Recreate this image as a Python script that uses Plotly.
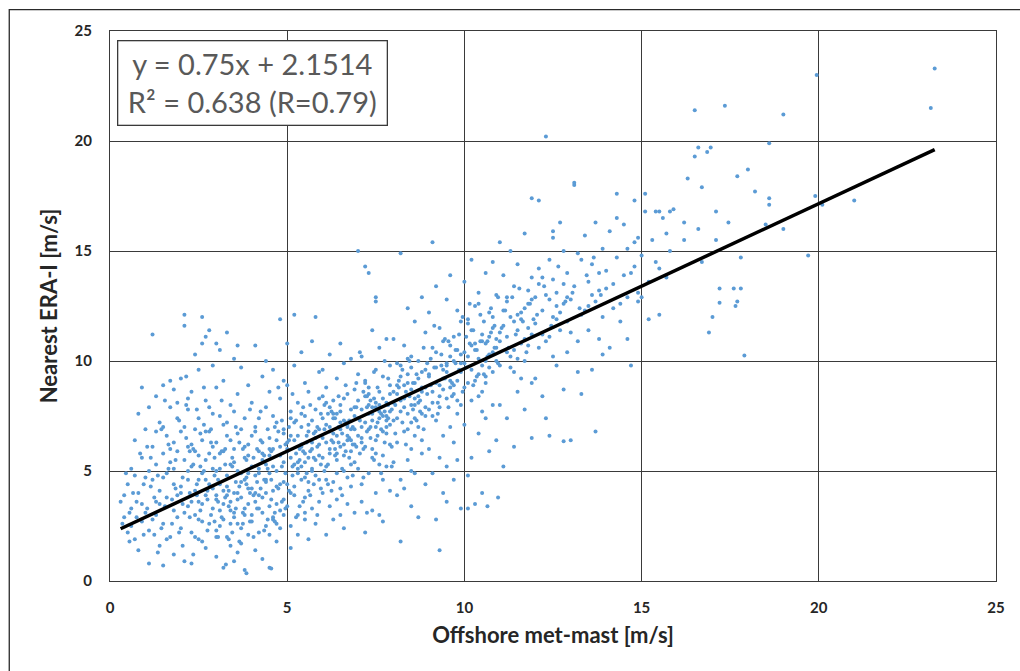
import plotly.graph_objects as go

# Offshore met-mast wind speed (x) vs nearest ERA-Interim grid point (y), m/s

# --- low winds, mast < 3 m/s ---
mast_a = [
    0.3, 0.4, 0.5, 0.5, 0.6, 0.6, 0.7, 0.7, 0.8, 0.8,
    0.9, 0.9, 0.9, 1.0, 1.0, 0.4, 0.6, 0.8, 0.7, 0.9,
    1.1, 1.1, 1.2, 1.2, 1.2, 1.3, 1.3, 1.3, 1.4, 1.4,
    1.4, 1.5, 1.5, 1.5, 1.5, 1.6, 1.6, 1.6, 1.7, 1.7,
    1.7, 1.7, 1.8, 1.8, 1.8, 1.8, 1.9, 1.9, 1.9, 1.9,
    1.1, 1.2, 1.3, 1.4, 1.5, 1.6, 1.7, 1.8, 1.9, 2.0,
    1.0, 1.3, 1.5, 1.8, 2.0,
    2.0, 2.0, 2.1, 2.1, 2.1, 2.1, 2.2, 2.2, 2.2, 2.2,
    2.3, 2.3, 2.3, 2.3, 2.4, 2.4, 2.4, 2.4, 2.5, 2.5,
    2.5, 2.5, 2.5, 2.6, 2.6, 2.6, 2.6, 2.7, 2.7, 2.7,
    2.7, 2.8, 2.8, 2.8, 2.8, 2.9, 2.9, 2.9, 2.9, 3.0,
    2.0, 2.1, 2.2, 2.3, 2.4, 2.5, 2.6, 2.7, 2.8, 2.9,
    2.1, 2.3, 2.4, 2.6, 2.8, 2.9, 2.2, 2.5, 2.7, 3.0,
    2.7, 2.6, 1.1,
]
era_a = [
    3.6, 2.9, 4.4, 2.2, 3.3, 5.1, 6.4, 1.9, 4.0, 7.6,
    8.8, 2.7, 5.6, 3.1, 6.9, 3.9, 2.5, 1.4, 4.8, 3.5,
    7.9, 2.3, 11.2, 4.6, 6.1, 3.0, 8.4, 5.3, 1.6, 7.2,
    4.1, 5.8, 2.6, 8.9, 0.7, 6.6, 3.8, 4.9, 7.9, 2.0,
    5.4, 9.1, 3.2, 6.3, 1.2, 4.4, 7.4, 2.9, 5.9, 8.1,
    5.0, 2.8, 6.8, 3.5, 4.7, 1.9, 6.0, 8.7, 3.9, 4.3,
    4.7, 3.6, 7.0, 5.1, 6.8,
    2.4, 9.2, 12.1, 11.6, 5.5, 0.9, 3.4, 7.8, 6.1, 4.6,
    2.2, 5.2, 8.6, 0.8, 4.1, 6.9, 3.0, 10.3, 5.7, 1.9,
    7.4, 3.6, 9.6, 4.9, 2.7, 6.4, 12.0, 8.2, 3.9, 5.5,
    1.5, 11.4, 6.8, 2.6, 4.4, 7.6, 3.3, 9.8, 5.1, 2.0,
    4.0, 3.1, 5.0, 6.2, 2.0, 4.6, 3.5, 6.8, 5.8, 4.2,
    7.0, 3.6, 5.9, 1.8, 7.9, 6.1, 8.3, 2.8, 4.6, 3.7,
    11.1, 10.8, 0.8,
]

# --- mast 3-6 m/s ---
mast_b = [
    3.0, 3.0, 3.0, 3.1, 3.1, 3.1, 3.1, 3.2, 3.2, 3.2,
    3.2, 3.3, 3.3, 3.3, 3.3, 3.4, 3.4, 3.4, 3.4, 3.5,
    3.5, 3.5, 3.5, 3.5, 3.6, 3.6, 3.6, 3.6, 3.7, 3.7,
    3.7, 3.7, 3.8, 3.8, 3.8, 3.8, 3.9, 3.9, 3.9, 3.9,
    3.0, 3.1, 3.2, 3.3, 3.4, 3.5, 3.6, 3.7, 3.8, 3.9,
    3.0, 3.2, 3.3, 3.5, 3.6, 3.8, 3.9, 3.1, 3.4, 3.7,
    3.2, 3.4, 3.6, 3.8, 3.5, 3.3, 3.1, 3.9, 3.0, 3.7,
    4.0, 4.0, 4.0, 4.1, 4.1, 4.1, 4.1, 4.2, 4.2, 4.2,
    4.2, 4.3, 4.3, 4.3, 4.3, 4.4, 4.4, 4.4, 4.4, 4.5,
    4.5, 4.5, 4.5, 4.5, 4.6, 4.6, 4.6, 4.6, 4.7, 4.7,
    4.7, 4.7, 4.8, 4.8, 4.8, 4.8, 4.9, 4.9, 4.9, 4.9,
    4.0, 4.1, 4.2, 4.3, 4.4, 4.5, 4.6, 4.7, 4.8, 4.9,
    4.0, 4.2, 4.3, 4.5, 4.6, 4.8, 4.9, 4.1, 4.4, 4.7,
    4.2, 4.4, 4.6, 4.8, 4.5, 4.3, 4.1, 4.9, 4.0, 4.7,
    5.0, 5.0, 5.0, 5.1, 5.1, 5.1, 5.1, 5.2, 5.2, 5.2,
    5.2, 5.3, 5.3, 5.3, 5.3, 5.4, 5.4, 5.4, 5.4, 5.5,
    5.5, 5.5, 5.5, 5.5, 5.6, 5.6, 5.6, 5.6, 5.7, 5.7,
    5.7, 5.7, 5.8, 5.8, 5.8, 5.8, 5.9, 5.9, 5.9, 5.9,
    5.0, 5.1, 5.2, 5.3, 5.4, 5.5, 5.6, 5.7, 5.8, 5.9,
    5.0, 5.2, 5.3, 5.5, 5.6, 5.8, 5.9, 5.1, 5.4, 5.7,
    5.2, 5.4, 5.6, 5.8, 5.5, 5.3, 5.1, 5.9, 5.0, 5.7,
    3.0, 3.6, 5.0, 3.85, 4.55, 3.27,
]
era_b = [
    6.3, 1.1, 8.8, 4.4, 10.5, 2.5, 5.8, 7.1, 3.5, 0.6,
    9.1, 4.8, 2.0, 6.6, 11.3, 3.2, 8.0, 5.3, 1.6, 4.0,
    7.7, 2.9, 10.1, 6.0, 3.7, 5.0, 1.3, 8.5, 4.5, 2.4,
    6.9, 9.7, 3.0, 5.6, 0.5, 7.4, 4.2, 2.1, 6.2, 8.9,
    3.9, 5.1, 2.8, 4.3, 3.6, 5.4, 2.6, 4.9, 3.3, 5.7,
    2.3, 4.1, 3.9, 3.1, 6.7, 4.6, 3.5, 7.5, 6.4, 3.8,
    5.9, 2.6, 4.0, 6.1, 0.9, 7.2, 3.2, 4.9, 5.0, 1.7,
    5.2, 2.7, 8.1, 3.6, 6.8, 1.4, 10.7, 4.9, 2.2, 7.4,
    5.9, 3.1, 9.3, 6.3, 1.0, 4.5, 7.9, 2.5, 10.0, 5.7,
    3.4, 8.6, 0.6, 6.5, 4.1, 2.8, 9.6, 6.0, 3.5, 7.2,
    5.0, 1.8, 8.3, 4.4, 11.9, 2.4, 6.7, 3.0, 5.4, 9.1,
    4.2, 4.8, 3.9, 5.5, 4.0, 4.9, 5.2, 4.3, 6.1, 3.7,
    6.6, 5.1, 3.8, 6.0, 2.9, 5.7, 4.5, 7.0, 5.3, 6.4,
    3.3, 4.6, 7.5, 3.2, 2.1, 5.8, 4.0, 6.9, 3.0, 2.6,
    6.0, 3.4, 8.9, 2.5, 5.6, 7.7, 1.5, 4.3, 9.8, 12.1,
    6.4, 3.0, 5.1, 8.1, 2.1, 7.0, 4.6, 10.4, 6.2, 3.8,
    5.4, 9.0, 2.8, 7.5, 4.1, 6.8, 1.9, 8.6, 5.0, 3.3,
    7.3, 10.9, 4.8, 12.0, 6.5, 2.6, 5.7, 8.3, 3.6, 9.5,
    5.9, 6.6, 5.3, 4.9, 6.1, 5.8, 7.1, 6.3, 5.5, 6.9,
    4.4, 7.2, 6.6, 4.7, 5.6, 7.8, 6.2, 4.0, 5.2, 6.0,
    3.9, 7.6, 4.5, 6.8, 3.1, 5.4, 7.4, 4.6, 6.3, 5.1,
    10.8, 10.7, 10.8, 0.35, 0.57, 0.75,
]

# --- mast 6-9 m/s ---
mast_c = [
    6.0, 6.0, 6.0, 6.1, 6.1, 6.1, 6.1, 6.2, 6.2, 6.2,
    6.2, 6.3, 6.3, 6.3, 6.3, 6.4, 6.4, 6.4, 6.4, 6.5,
    6.5, 6.5, 6.5, 6.5, 6.6, 6.6, 6.6, 6.6, 6.7, 6.7,
    6.7, 6.7, 6.8, 6.8, 6.8, 6.8, 6.9, 6.9, 6.9, 6.9,
    6.0, 6.1, 6.2, 6.3, 6.4, 6.5, 6.6, 6.7, 6.8, 6.9,
    6.0, 6.2, 6.3, 6.5, 6.6, 6.8, 6.9, 6.1, 6.4, 6.7,
    6.2, 6.4, 6.6, 6.8, 6.5, 6.3, 6.1, 6.9, 6.0, 6.7,
    7.0, 7.0, 7.0, 7.1, 7.1, 7.1, 7.1, 7.2, 7.2, 7.2,
    7.2, 7.3, 7.3, 7.3, 7.3, 7.4, 7.4, 7.4, 7.4, 7.5,
    7.5, 7.5, 7.5, 7.5, 7.6, 7.6, 7.6, 7.6, 7.7, 7.7,
    7.7, 7.7, 7.8, 7.8, 7.8, 7.8, 7.9, 7.9, 7.9, 7.9,
    7.0, 7.1, 7.2, 7.3, 7.4, 7.5, 7.6, 7.7, 7.8, 7.9,
    7.0, 7.2, 7.3, 7.5, 7.6, 7.8, 7.9, 7.1, 7.4, 7.7,
    7.2, 7.4, 7.6, 7.8, 7.5, 7.3, 7.1, 7.9, 7.0, 7.7,
    8.0, 8.0, 8.0, 8.1, 8.1, 8.1, 8.1, 8.2, 8.2, 8.2,
    8.2, 8.3, 8.3, 8.3, 8.3, 8.4, 8.4, 8.4, 8.4, 8.5,
    8.5, 8.5, 8.5, 8.5, 8.6, 8.6, 8.6, 8.6, 8.7, 8.7,
    8.7, 8.7, 8.8, 8.8, 8.8, 8.8, 8.9, 8.9, 8.9, 8.9,
    8.0, 8.1, 8.2, 8.3, 8.4, 8.5, 8.6, 8.7, 8.8, 8.9,
    8.0, 8.2, 8.3, 8.5, 8.6, 8.8, 8.9, 8.1, 8.4, 8.7,
    8.2, 8.4, 8.6, 8.8, 8.5,
    7.25, 7.5,
]
era_c = [
    7.4, 4.0, 9.6, 2.1, 6.3, 8.8, 5.2, 3.4, 7.0, 10.3,
    5.8, 4.5, 8.2, 2.8, 6.7, 3.7, 9.2, 5.5, 7.6, 4.2,
    6.1, 10.8, 3.0, 8.0, 5.0, 7.3, 2.4, 9.9, 6.4, 4.7,
    8.5, 3.5, 5.9, 7.8, 10.1, 4.3, 6.9, 3.1, 8.7, 5.4,
    6.5, 7.1, 6.8, 7.4, 6.6, 7.7, 6.2, 7.0, 6.9, 7.5,
    5.6, 6.0, 6.3, 7.2, 5.7, 6.4, 7.9, 8.1, 5.8, 6.6,
    7.9, 4.9, 8.3, 5.3, 6.9, 7.6, 4.6, 6.2, 8.4, 7.1,
    8.2, 5.1, 15.0, 3.6, 7.0, 10.2, 4.4, 6.1, 9.0, 14.3,
    2.2, 7.6, 4.9, 14.0, 8.8, 5.6, 11.4, 3.2, 7.3, 6.4,
    9.6, 4.0, 12.7, 7.9, 5.3, 8.6, 3.0, 10.6, 6.8, 4.6,
    9.3, 2.7, 7.5, 5.2, 11.0, 8.1, 6.2, 9.8, 4.1, 7.1,
    7.4, 7.8, 7.2, 8.0, 7.6, 7.0, 7.7, 8.3, 7.3, 8.5,
    6.6, 8.4, 6.9, 8.1, 7.4, 6.7, 8.9, 6.3, 7.9, 7.5,
    9.1, 6.0, 8.0, 7.0, 5.8, 8.5, 6.5, 7.7, 9.4, 5.7,
    8.6, 5.4, 11.0, 3.9, 7.4, 9.9, 6.3, 14.9, 4.6, 8.2,
    1.8, 10.7, 6.8, 8.9, 4.2, 7.6, 12.4, 5.5, 9.4, 3.4,
    8.0, 6.0, 10.2, 7.2, 4.9, 9.0, 11.8, 6.6, 8.4, 2.9,
    7.0, 10.0, 5.8, 8.8, 12.9, 6.4, 9.6, 4.4, 7.9, 11.3,
    8.1, 8.5, 7.7, 8.3, 9.0, 8.7, 8.0, 9.2, 8.6, 7.5,
    7.3, 9.3, 7.9, 9.7, 8.3, 7.6, 8.8, 8.9, 10.1, 8.1,
    9.8, 6.9, 7.4, 9.5, 5.0,
    3.1, 12.9,
]

# --- mast 9-12 m/s ---
mast_d = [
    9.0, 9.0, 9.0, 9.1, 9.1, 9.1, 9.1, 9.2, 9.2, 9.2,
    9.2, 9.3, 9.3, 9.3, 9.3, 9.4, 9.4, 9.4, 9.4, 9.5,
    9.5, 9.5, 9.5, 9.5, 9.6, 9.6, 9.6, 9.6, 9.7, 9.7,
    9.7, 9.7, 9.8, 9.8, 9.8, 9.8, 9.9, 9.9, 9.9, 9.9,
    9.0, 9.1, 9.2, 9.3, 9.4, 9.5, 9.6, 9.7, 9.8, 9.9,
    9.0, 9.2, 9.3, 9.5, 9.6, 9.8, 9.9, 9.1, 9.4, 9.7,
    10.0, 10.0, 10.0, 10.1, 10.1, 10.1, 10.2, 10.2, 10.2, 10.3,
    10.3, 10.3, 10.4, 10.4, 10.4, 10.5, 10.5, 10.5, 10.6, 10.6,
    10.6, 10.7, 10.7, 10.7, 10.8, 10.8, 10.8, 10.9, 10.9, 10.9,
    10.0, 10.1, 10.2, 10.3, 10.4, 10.5, 10.6, 10.7, 10.8, 10.9,
    10.0, 10.2, 10.3, 10.5, 10.6, 10.8, 10.9, 10.1, 10.4, 10.7,
    10.2, 10.4, 10.6, 10.8, 10.5,
    11.0, 11.0, 11.1, 11.1, 11.2, 11.2, 11.2, 11.3, 11.3, 11.4,
    11.4, 11.4, 11.5, 11.5, 11.5, 11.6, 11.6, 11.7, 11.7, 11.7,
    11.8, 11.8, 11.9, 11.9, 11.9, 11.0, 11.1, 11.2, 11.3, 11.4,
    11.5, 11.6, 11.7, 11.8, 11.9, 11.0, 11.2, 11.4, 11.6, 11.8,
    11.1, 11.3, 11.5, 11.7, 11.9,
    10.1, 10.65, 10.95, 11.9, 11.0,
]
era_d = [
    9.4, 6.0, 12.2, 15.4, 8.1, 4.9, 10.6, 7.3, 13.4, 2.8,
    9.0, 5.6, 11.5, 7.9, 1.4, 8.7, 4.0, 10.9, 6.6, 9.8,
    12.8, 5.2, 8.3, 3.6, 10.2, 7.0, 13.9, 9.1, 6.3, 11.1,
    4.6, 8.9, 7.6, 10.5, 5.5, 12.3, 9.5, 3.3, 8.0, 11.8,
    9.3, 8.6, 9.7, 8.9, 9.2, 9.5, 8.8, 10.0, 9.1, 9.9,
    7.8, 10.4, 8.4, 9.9, 10.7, 8.2, 10.3, 7.5, 9.6, 8.5,
    10.4, 7.1, 13.6, 4.8, 11.9, 9.0, 8.2, 14.6, 5.6, 10.8,
    12.5, 3.5, 9.4, 6.7, 13.1, 11.2, 8.6, 4.0, 10.0, 14.0,
    7.4, 12.2, 5.9, 9.7, 11.5, 8.0, 14.5, 10.6, 6.4, 13.0,
    9.9, 10.2, 9.6, 10.5, 10.1, 9.8, 10.8, 10.3, 9.5, 11.0,
    8.8, 11.4, 9.1, 10.9, 9.3, 12.0, 10.0, 11.7, 8.4, 11.1,
    10.7, 12.6, 9.0, 10.4, 7.7,
    11.3, 8.0, 13.9, 5.2, 10.4, 12.9, 7.4, 9.7, 15.0, 11.8,
    6.1, 13.4, 10.1, 8.6, 14.4, 12.2, 9.2, 11.0, 15.8, 7.8,
    12.6, 10.7, 17.4, 9.0, 13.8, 10.9, 11.6, 11.1, 12.0, 10.5,
    11.4, 10.8, 12.4, 11.5, 11.2, 9.8, 12.7, 9.5, 11.9, 13.2,
    12.3, 10.2, 12.1, 10.0, 12.8,
    3.3, 3.4, 3.8, 6.5, 15.4,
]

# --- mast 12-15 m/s ---
mast_e = [
    12.0, 12.0, 12.1, 12.1, 12.2, 12.2, 12.3, 12.3, 12.4, 12.4,
    12.5, 12.5, 12.6, 12.6, 12.7, 12.7, 12.8, 12.8, 12.9, 12.9,
    12.0, 12.2, 12.4, 12.6, 12.8, 12.1, 12.3, 12.5, 12.7, 12.9,
    12.3, 12.1, 12.6, 12.8, 12.4, 12.2, 12.9, 12.5,
    13.0, 13.0, 13.1, 13.2, 13.2, 13.3, 13.3, 13.4, 13.5, 13.5,
    13.6, 13.6, 13.7, 13.7, 13.8, 13.8, 13.9, 13.9, 13.1, 13.4,
    13.6, 13.9, 13.0, 13.3, 13.5, 13.8, 13.2, 13.7,
    14.0, 14.1, 14.1, 14.2, 14.3, 14.3, 14.4, 14.5, 14.5, 14.6,
    14.6, 14.7, 14.8, 14.8, 14.9, 14.9, 14.0, 14.2, 14.4, 14.7,
    14.9, 14.3, 14.6, 14.8,
    12.8, 12.5, 13.1,
]
era_e = [
    11.7, 9.2, 17.3, 13.5, 8.4, 12.3, 20.2, 10.9, 14.6, 6.6,
    12.0, 15.6, 9.8, 13.1, 11.4, 16.3, 8.7, 12.6, 14.0, 10.4,
    12.9, 11.2, 12.8, 11.9, 13.5, 10.6, 13.0, 13.7, 12.2, 11.8,
    7.4, 14.2, 12.5, 15.0, 11.1, 13.8, 12.9, 10.2,
    12.8, 6.4, 18.1, 10.9, 14.9, 12.1, 8.5, 15.7, 11.4, 13.6,
    9.6, 14.4, 12.7, 16.3, 11.0, 13.2, 15.1, 10.3, 13.4, 12.3,
    13.0, 12.0, 11.3, 14.6, 12.5, 14.0, 9.5, 6.8,
    13.3, 10.6, 15.9, 12.4, 14.7, 17.6, 11.8, 13.9, 16.2, 12.9,
    15.1, 9.8, 14.3, 17.3, 12.7, 15.6, 14.1, 13.5, 12.6, 14.0,
    13.1, 16.5, 11.0, 15.4,
    6.35, 15.9, 18.0,
]

# --- strong winds, mast > 15 m/s ---
mast_f = [
    15.0, 15.0, 15.1, 15.2, 15.3, 15.4, 15.5, 15.5, 15.6, 15.7,
    15.8, 15.9, 15.2, 15.4, 15.7,
    15.1, 15.5, 15.8, 16.2, 16.2, 16.3, 16.5, 16.5, 16.6, 16.6,
    16.7, 16.85, 16.95, 16.9, 17.0, 17.1, 17.1, 17.2, 17.35, 17.45,
    17.6, 17.65, 17.7, 17.8, 17.8, 17.9, 18.0, 18.2, 18.5, 18.6,
    18.6, 18.6, 19.0, 19.0, 19.7, 19.9, 19.94, 20.1, 21.0, 23.16,
    23.27, 16.7, 17.2, 17.7,
]
era_f = [
    14.8, 12.9, 16.8, 13.6, 15.5, 16.8, 14.2, 12.1, 16.5, 13.8,
    15.0, 16.9, 11.9, 14.5, 15.8,
    17.6, 16.8, 16.8, 16.3, 15.5, 18.3, 21.4, 19.3, 19.7, 16.0,
    17.9, 19.5, 19.7, 11.3, 12.0, 16.8, 15.5, 12.65, 21.6, 16.3,
    13.3, 12.5, 18.4, 14.7, 13.3, 10.25, 18.7, 17.7, 16.2, 19.9,
    17.4, 17.1, 21.2, 16.0, 14.8, 17.5, 23.0, 17.1, 17.3, 21.5,
    23.3, 14.5, 13.3, 12.7,
]

# --- additional half-step mast readings through the main cloud ---
mast_g = [
    1.05, 1.15, 1.25, 1.35, 1.45, 1.55, 1.65, 1.75, 1.85, 1.95,
    1.05, 1.25, 1.45, 1.65, 1.85, 1.15, 1.35, 1.55, 1.75, 1.95,
    2.05, 2.15, 2.25, 2.35, 2.45, 2.55, 2.65, 2.75, 2.85, 2.95,
    2.05, 2.25, 2.45, 2.65, 2.85, 2.15, 2.35, 2.55, 2.75, 2.95,
    2.15, 2.35, 2.55, 2.75, 2.95, 2.05, 2.25, 2.45, 2.65, 2.85,
    3.05, 3.15, 3.25, 3.35, 3.45, 3.55, 3.65, 3.75, 3.85, 3.95,
    3.05, 3.25, 3.45, 3.65, 3.85, 3.15, 3.35, 3.55, 3.75, 3.95,
    3.15, 3.35, 3.55, 3.75, 3.95, 3.05, 3.25, 3.45, 3.65, 3.85,
    4.05, 4.15, 4.25, 4.35, 4.45, 4.55, 4.65, 4.75, 4.85, 4.95,
    4.05, 4.25, 4.45, 4.65, 4.85, 4.15, 4.35, 4.55, 4.75, 4.95,
    4.15, 4.35, 4.55, 4.75, 4.95, 4.05, 4.25, 4.45, 4.65, 4.85,
    5.05, 5.15, 5.25, 5.35, 5.45, 5.55, 5.65, 5.75, 5.85, 5.95,
    5.05, 5.25, 5.45, 5.65, 5.85, 5.15, 5.35, 5.55, 5.75, 5.95,
    5.15, 5.35, 5.55, 5.75, 5.95, 5.05, 5.25, 5.45, 5.65, 5.85,
    6.05, 6.15, 6.25, 6.35, 6.45, 6.55, 6.65, 6.75, 6.85, 6.95,
    6.05, 6.25, 6.45, 6.65, 6.85, 6.15, 6.35, 6.55, 6.75, 6.95,
    6.15, 6.35, 6.55, 6.75, 6.95, 6.05, 6.25, 6.45, 6.65, 6.85,
    7.05, 7.15, 7.25, 7.35, 7.45, 7.55, 7.65, 7.75, 7.85, 7.95,
    7.05, 7.25, 7.45, 7.65, 7.85, 7.15, 7.35, 7.55, 7.75, 7.95,
    7.15, 7.35, 7.55, 7.75, 7.95, 7.05, 7.25, 7.45, 7.65, 7.85,
    8.05, 8.15, 8.25, 8.35, 8.45, 8.55, 8.65, 8.75, 8.85, 8.95,
    8.05, 8.25, 8.45, 8.65, 8.85, 8.15, 8.35, 8.55, 8.75, 8.95,
    9.05, 9.15, 9.25, 9.35, 9.45, 9.55, 9.65, 9.75, 9.85, 9.95,
    9.05, 9.25, 9.45, 9.65, 9.85, 9.15, 9.35, 9.55, 9.75, 9.95,
    10.05, 10.15, 10.25, 10.35, 10.45, 10.55, 10.65, 10.75, 10.85, 10.95,
    10.05, 10.25, 10.45, 10.65, 10.85, 10.15, 10.35, 10.55, 10.75, 10.95,
    11.05, 11.15, 11.25, 11.35, 11.45, 11.55, 11.65, 11.75, 11.85, 11.95,
    12.05, 12.25, 12.45, 12.65, 12.85, 13.05, 13.25, 13.45, 13.65, 13.85,
    0.35, 0.45, 0.55, 0.65, 0.75, 0.85, 0.95, 0.55, 0.75, 0.95,
]
era_g = [
    3.3, 5.6, 2.1, 4.8, 6.9, 3.4, 5.1, 2.6, 4.2, 7.3,
    6.1, 3.8, 2.4, 6.2, 5.5, 4.3, 1.3, 8.2, 3.7, 2.2,
    4.7, 6.5, 2.9, 5.3, 7.8, 3.2, 5.0, 4.1, 6.3, 2.7,
    3.5, 5.9, 4.4, 7.1, 3.0, 8.0, 6.0, 5.2, 2.3, 4.8,
    9.3, 1.2, 6.7, 3.7, 5.6, 1.6, 4.0, 3.9, 8.8, 6.9,
    4.6, 2.9, 6.0, 3.4, 5.2, 7.0, 4.3, 3.1, 5.5, 4.0,
    3.6, 5.3, 2.2, 6.3, 4.7, 8.2, 4.1, 3.3, 6.0, 2.7,
    5.9, 1.9, 4.5, 2.6, 7.8, 2.0, 3.8, 5.6, 1.8, 4.4,
    5.6, 3.3, 6.4, 4.6, 2.8, 5.9, 7.0, 4.2, 3.6, 6.2,
    3.9, 7.7, 5.1, 3.1, 5.2, 6.0, 2.3, 4.6, 8.8, 3.3,
    4.5, 5.7, 3.7, 6.8, 4.9, 2.0, 4.2, 6.9, 2.7, 7.3,
    6.4, 4.8, 7.3, 5.5, 3.6, 6.6, 5.9, 4.4, 7.0, 5.3,
    4.1, 5.8, 7.9, 3.9, 6.1, 8.5, 6.0, 4.9, 6.7, 7.6,
    5.2, 3.4, 6.3, 5.6, 4.2, 7.0, 2.9, 5.9, 8.0, 3.0,
    6.9, 5.3, 7.7, 6.0, 8.4, 5.1, 7.2, 6.5, 4.8, 7.9,
    5.0, 6.4, 7.0, 8.9, 6.2, 4.4, 7.4, 6.7, 5.6, 9.0,
    7.6, 5.7, 3.9, 7.3, 6.1, 8.0, 4.1, 6.3, 5.9, 7.0,
    7.3, 6.0, 8.4, 7.0, 5.5, 8.8, 7.6, 6.3, 9.2, 7.8,
    5.8, 7.9, 9.5, 6.9, 8.0, 8.6, 6.5, 7.2, 10.0, 6.1,
    4.7, 8.2, 6.6, 7.7, 5.2, 10.4, 6.8, 8.3, 4.9, 7.4,
    8.0, 9.1, 7.2, 8.6, 10.0, 7.8, 9.4, 8.2, 6.9, 9.9,
    6.7, 9.6, 8.4, 7.3, 10.6, 8.8, 6.2, 9.0, 7.7, 8.5,
    8.9, 9.7, 8.1, 10.3, 9.2, 10.9, 9.0, 9.9, 11.2, 8.6,
    10.1, 7.6, 11.0, 8.4, 9.6, 11.6, 9.8, 7.9, 10.5, 12.0,
    9.7, 10.8, 11.4, 9.3, 10.9, 11.8, 10.2, 12.4, 10.6, 9.9,
    11.1, 8.9, 12.1, 10.9, 11.6, 12.6, 10.5, 9.4, 11.3, 12.9,
    11.5, 12.3, 10.6, 12.9, 11.2, 13.3, 11.8, 10.4, 12.6, 11.9,
    12.1, 13.4, 11.6, 14.3, 12.7, 13.1, 12.4, 13.9, 14.7, 13.0,
    2.6, 4.9, 3.1, 4.0, 2.9, 5.8, 4.4, 1.8, 3.6, 2.1,
]

# Linear fit reported in the chart
slope = 0.75
intercept = 2.1514
r_squared = 0.638
r_value = 0.79

axis_ticks = [0, 5, 10, 15, 20, 25]

mast = mast_a + mast_b + mast_c + mast_d + mast_e + mast_f + mast_g
era = era_a + era_b + era_c + era_d + era_e + era_f + era_g
assert len(mast) == len(era)

trend_x = [min(mast), max(mast)]
trend_y = [slope * v + intercept for v in trend_x]

GRID = "#3a3a3a"
FONT = "Lato, 'Open Sans', sans-serif"

fig = go.Figure()
fig.add_trace(go.Scatter(
    x=mast, y=era, mode="markers",
    marker=dict(size=4, color="#5B9BD5"),
    showlegend=False, hoverinfo="x+y",
))
fig.add_trace(go.Scatter(
    x=trend_x, y=trend_y, mode="lines",
    line=dict(color="black", width=3.5),
    showlegend=False,
))

axis_common = dict(
    range=[0, 25], tickvals=axis_ticks,
    showgrid=True, gridcolor=GRID, gridwidth=1.3,
    showline=True, linecolor=GRID, linewidth=1.3, mirror=True,
    zeroline=False, ticks="",
    tickfont=dict(family=FONT, size=15, color="#262626", weight="bold"),
)

fig.update_layout(
    width=1020, height=671,
    margin=dict(l=110, r=24, t=31, b=90),
    paper_bgcolor="white", plot_bgcolor="white",
    xaxis=dict(
        **axis_common,
        ticklabelstandoff=13,
        title=dict(text="Offshore met-mast [m/s]", standoff=12,
                   font=dict(family=FONT, size=22, color="#262626", weight="bold")),
    ),
    yaxis=dict(
        **axis_common,
        ticklabelstandoff=14,
        title=dict(text="Nearest ERA-I [m/s]", standoff=10,
                   font=dict(family=FONT, size=22, color="#262626", weight="bold")),
    ),
    annotations=[dict(
        xref="paper", yref="paper", x=0.0079, y=0.983,
        xanchor="left", yanchor="top", showarrow=False, align="center",
        text=(f"y = {slope}x + {intercept}<br>"
              f"R² = {r_squared} (R={r_value})"),
        font=dict(family=FONT, size=29, color="#595959"),
        bgcolor="white", bordercolor="#3a3a3a", borderwidth=1.3,
        width=268, height=83, borderpad=0,
    )],
    shapes=[dict(
        type="rect", xref="paper", yref="paper",
        x0=-0.1137, x1=1.2, y0=-0.3, y1=1.039,
        line=dict(color="#2a2a2a", width=1.3), layer="below",
    )],
)

fig.write_html("out.html")
